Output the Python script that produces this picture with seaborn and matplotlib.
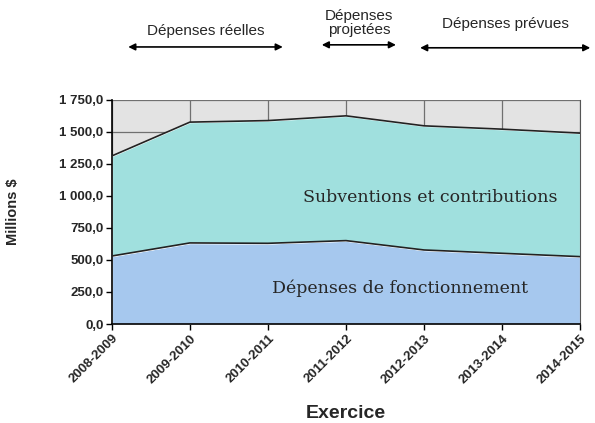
import matplotlib
matplotlib.use("Agg")
import matplotlib.pyplot as plt
import matplotlib.ticker as ticker
import seaborn as sns
import pandas as pd

exercices = ["2008-2009", "2009-2010", "2010-2011", "2011-2012",
             "2012-2013", "2013-2014", "2014-2015"]
fonctionnement = [531, 633, 630, 651, 578, 552, 526]
subventions = [781, 943, 958, 974, 969, 969, 964]

periodes = ["Dépenses réelles", "Dépenses\nprojetées", "Dépenses prévues"]

sns.set_style("white")
plt.rcParams["font.family"] = ["Liberation Sans", "DejaVu Sans"]

df = pd.DataFrame({"Exercice": exercices,
                   "Fonctionnement": fonctionnement,
                   "Subventions": subventions})
df["x"] = range(len(df))
df["Total"] = df["Fonctionnement"] + df["Subventions"]

fig = plt.figure(figsize=(5.95, 4.23), dpi=100)
ax = fig.add_axes([0.188, 0.234, 0.787, 0.530])
ax.set_facecolor("#e3e3e3")

ax.stackplot(df["x"], df["Fonctionnement"], df["Subventions"],
             colors=["#a6c8ee", "#a0e0de"], zorder=2)
sns.lineplot(x="x", y="Fonctionnement", data=df, color="#222222", lw=1.2, ax=ax, zorder=3)
sns.lineplot(x="x", y="Total", data=df, color="#222222", lw=1.2, ax=ax, zorder=3)

ax.set_xlim(0, len(df) - 1)
ax.set_ylim(0, 1750)
ax.yaxis.set_major_locator(ticker.MultipleLocator(250))
ax.yaxis.set_major_formatter(ticker.FuncFormatter(
    lambda v, p: ("{:,.1f}".format(v)).replace(",", " ").replace(".", ",")))
ax.set_xticks(df["x"])
ax.set_xticklabels(exercices, rotation=45, ha="right", rotation_mode="anchor")
ax.grid(True, color="#707070", lw=0.9, zorder=1)
ax.set_axisbelow(True)
for t in ax.get_xticklabels() + ax.get_yticklabels():
    t.set_fontweight("bold")
    t.set_fontsize(9.5)
ax.tick_params(axis="both", direction="out", length=4, width=1, color="black",
               bottom=True, left=True, pad=2)
ax.spines["top"].set_visible(False)
for s in ["left", "bottom"]:
    ax.spines[s].set_color("black")
    ax.spines[s].set_linewidth(1.2)
ax.spines["right"].set_color("#555555")
ax.set_xlabel("Exercice", fontsize=14, fontweight="bold")
ax.set_ylabel("Millions $", fontsize=10.5, fontweight="bold")
ax.xaxis.set_label_coords(0.5, -0.36)
ax.yaxis.set_label_coords(-0.197, 0.5)

ax.text(4.08, 984, "Subventions et contributions", family="DejaVu Serif",
        fontsize=12.5, ha="center", va="center", zorder=4)
ax.text(3.69, 281, "Dépenses de fonctionnement", family="DejaVu Serif",
        fontsize=12.5, ha="center", va="center", zorder=4)

# periods above the chart
spans = [(0.21, 2.19), (2.69, 3.64), (3.95, 6.13)]
arrow_y = [0.889, 0.894, 0.887]
text_y = [0.91, 0.913, 0.927]
for (a, b), ya, yt, lab in zip(spans, arrow_y, text_y, periodes):
    ax.annotate("", xy=(a, ya), xytext=(b, ya),
                xycoords=("data", "figure fraction"),
                textcoords=("data", "figure fraction"),
                arrowprops=dict(arrowstyle="<|-|>", color="black", lw=1.2,
                                mutation_scale=10, shrinkA=0, shrinkB=0),
                annotation_clip=False)
    ax.annotate(lab, xy=((a + b) / 2, yt), xycoords=("data", "figure fraction"),
                ha="center", va="bottom", fontsize=11, linespacing=1.0,
                annotation_clip=False)

fig.savefig("out.png", dpi=100)
